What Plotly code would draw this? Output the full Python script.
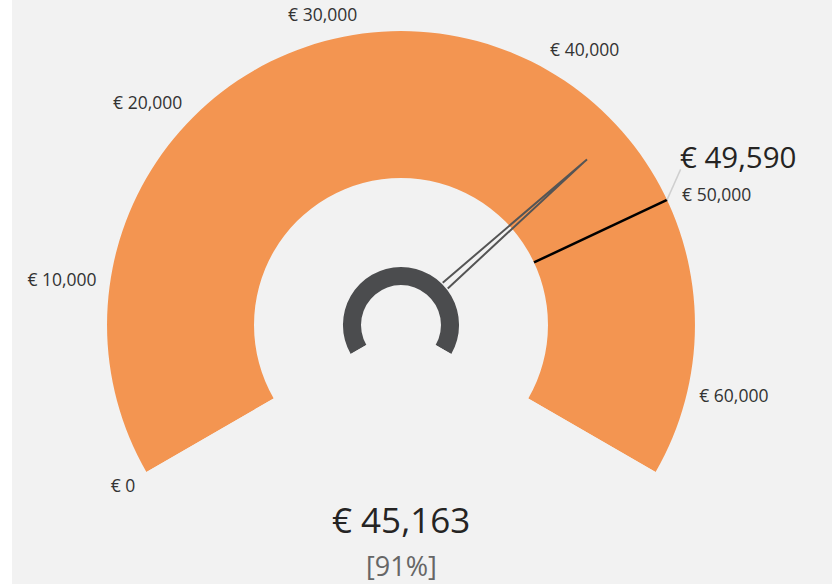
import math
import plotly.graph_objects as go

# ---- data ----
VALUE = 45163
TARGET = 49590
GAUGE_MIN = 0
GAUGE_MAX = 64400
TICK_VALUES = [0, 10000, 20000, 30000, 40000, 50000, 60000]
TICK_LABELS = ["€ 0", "€ 10,000", "€ 20,000", "€ 30,000", "€ 40,000", "€ 50,000", "€ 60,000"]

# ---- style ----
SWEEP = 240.0          # gauge sweep in degrees
START = 210.0          # screen angle of gauge minimum
R_MIN = -1.0           # radial axis minimum (gauge centre)
PX_PER_UNIT = 147.0    # radial unit in pixels (layout-derived)
LABEL_R = 1.088        # tick-label anchor radius
ORANGE = "#F39551"
HUB = "#4B4C4E"
NEEDLE = "#555555"
BG = "#F2F2F2"
FONT = "Open Sans"


def to_theta(v):
    return (v - GAUGE_MIN) / (GAUGE_MAX - GAUGE_MIN) * SWEEP


t_full = to_theta(GAUGE_MAX)
t_val = to_theta(VALUE)
t_tgt = to_theta(TARGET)

fig = go.Figure()

# gauge band
fig.add_trace(go.Barpolar(
    r=[1], base=[0], theta=[t_full / 2], width=[t_full],
    marker=dict(color=ORANGE, line=dict(width=0)),
    hoverinfo="skip", showlegend=False))

# hub ring
fig.add_trace(go.Barpolar(
    r=[0.123], base=[-0.728], theta=[t_full / 2], width=[t_full],
    marker=dict(color=HUB, line=dict(width=0)),
    hoverinfo="skip", showlegend=False))

# target line
fig.add_trace(go.Scatterpolar(
    r=[0, 1], theta=[t_tgt, t_tgt], mode="lines",
    line=dict(color="#000000", width=2.5),
    hoverinfo="skip", showlegend=False))

# leader line for target label
fig.add_trace(go.Scatterpolar(
    r=[1, 1.177], theta=[t_tgt, t_tgt - 3.9], mode="lines",
    line=dict(color="#CFCFCF", width=1.5),
    hoverinfo="skip", showlegend=False))

# needle
fig.add_trace(go.Scatterpolar(
    r=[-0.596, 0.694, -0.596], theta=[t_val - 3.65, t_val, t_val + 3.65],
    mode="lines", line=dict(color=NEEDLE, width=2),
    hoverinfo="skip", showlegend=False))

# target label
fig.add_trace(go.Scatterpolar(
    r=[1.153], theta=[t_tgt - 3.0], mode="text",
    text=[f"€ {TARGET:,}"], textposition="top right",
    textfont=dict(family=FONT, size=29.5, color="#252423"),
    cliponaxis=False, hoverinfo="skip", showlegend=False))

# tick labels: anchored at LABEL_R, nudged vertically like the reference
lab_r, lab_t, positions = [], [], []
for v in TICK_VALUES:
    a = math.radians(START - to_theta(v))
    s, c = math.sin(a), math.cos(a)
    dist = LABEL_R - R_MIN
    if s > 0:
        nudge_px, vert = -5, "middle"    # screen px, negative = up
    elif s < -0.3:
        nudge_px, vert = 0, "bottom"
    else:
        nudge_px, vert = 0, "middle"
    x = dist * c
    y = dist * s - nudge_px / PX_PER_UNIT
    lab_r.append(math.hypot(x, y) + R_MIN)
    lab_t.append(START - math.degrees(math.atan2(y, x)))
    positions.append(f"{vert} {'left' if c < 0 else 'right'}")

fig.add_trace(go.Scatterpolar(
    r=lab_r, theta=lab_t,
    mode="text", text=TICK_LABELS, textposition=positions,
    textfont=dict(family=FONT, size=17.5, color="#333333"),
    cliponaxis=False, hoverinfo="skip", showlegend=False))

pct = round(VALUE / TARGET * 100)

fig.update_layout(
    width=832, height=584,
    margin=dict(l=0, r=0, t=0, b=0),
    paper_bgcolor=BG,
    plot_bgcolor=BG,
    showlegend=False,
    polar=dict(
        domain=dict(x=[0.09501, 0.86893], y=[0.16789, 0.99469]),
        sector=[START - SWEEP, START],
        bgcolor="rgba(0,0,0,0)",
        bargap=0,
        angularaxis=dict(rotation=START, direction="clockwise",
                         showgrid=False, showline=False, showticklabels=False,
                         ticks=""),
        radialaxis=dict(range=[R_MIN, 1.19], visible=False, showgrid=False),
    ),
    shapes=[dict(type="rect", xref="paper", yref="paper", x0=0, x1=12 / 832,
                 y0=0, y1=1, fillcolor="#FFFFFF", line=dict(width=0), layer="below")],
    annotations=[
        dict(text=f"€ {VALUE:,}", xref="paper", yref="paper", x=0.482, y=0.1096,
             xanchor="center", yanchor="middle", showarrow=False,
             font=dict(family=FONT, size=35, color="#252423")),
        dict(text=f"[{pct}%]", xref="paper", yref="paper", x=0.482, y=0.031,
             xanchor="center", yanchor="middle", showarrow=False,
             font=dict(family=FONT, size=27, color="#666666")),
    ],
)

fig.write_html(
    "out.html",
    config={"displayModeBar": False},
    post_script="document.body.style.margin='0';document.body.style.overflow='hidden';",
)
